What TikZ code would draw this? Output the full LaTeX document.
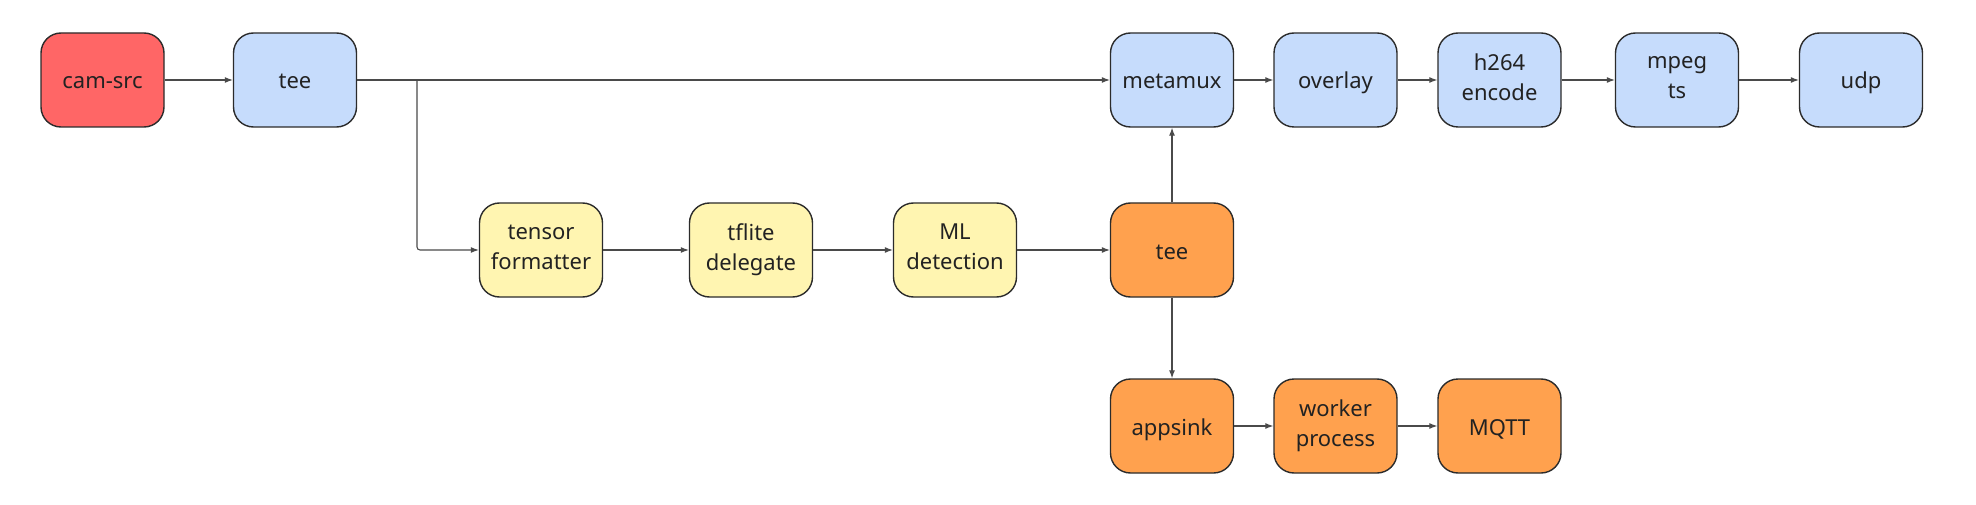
\documentclass[tikz,border=0pt]{standalone}
\usepackage{fontspec}
\setmainfont{Noto Sans}
\usetikzlibrary{arrows.meta}
\definecolor{cred}{HTML}{FF6666}
\definecolor{cblue}{HTML}{C6DCFC}
\definecolor{cyellow}{HTML}{FFF5B1}
\definecolor{corange}{HTML}{FFA14E}
\definecolor{cborder}{HTML}{2B2B2B}
\definecolor{cline}{HTML}{4A4A4A}
\definecolor{ctext}{HTML}{222222}
\newcommand{\boxstrut}{\rule[-6pt]{0pt}{30pt}}
\begin{document}
\begin{tikzpicture}[x=1pt,y=-1pt,
  box/.style={draw=cborder, line width=1.4pt, rounded corners=20pt,
    minimum width=123pt, minimum height=94pt, align=center, inner sep=0pt,
    text=ctext, font=\fontsize{22}{30}\selectfont,
    execute at begin node=\boxstrut, execute at end node=\boxstrut},
  red box/.style={box, fill=cred},
  blue box/.style={box, fill=cblue},
  yellow box/.style={box, fill=cyellow},
  orange box/.style={box, fill=corange},
  conn/.style={draw=cline, line width=1.1pt, -{Latex[length=8pt,width=6pt]}}]
\useasboundingbox (0,0) rectangle (1976,505);
\node[red box] (cam) at (102.5,80) {cam-src};
\node[blue box] (tee1) at (295,80) {tee};
\node[blue box] (metamux) at (1172,80) {metamux};
\node[blue box] (overlay) at (1335.5,80) {overlay};
\node[blue box] (h264) at (1499.5,80) {h264\\encode};
\node[blue box] (mpegts) at (1677,80) {mpeg\\ts};
\node[blue box] (udp) at (1861,80) {udp};
\node[yellow box] (tensor) at (541,250) {tensor\\formatter};
\node[yellow box] (tflite) at (751,250) {tflite\\delegate};
\node[yellow box] (ml) at (955,250) {ML\\detection};
\node[orange box] (tee2) at (1172,250) {tee};
\node[orange box] (appsink) at (1172,426) {appsink};
\node[orange box] (worker) at (1335.5,426) {worker\\process};
\node[orange box] (mqtt) at (1499.5,426) {MQTT};
\coordinate (split) at (417,80);
\draw[conn] (cam) -- (tee1);
\draw[conn] (tee1) -- (metamux);
\draw[conn, rounded corners=3pt] (split) |- (tensor);
\draw[conn] (tensor) -- (tflite);
\draw[conn] (tflite) -- (ml);
\draw[conn] (ml) -- (tee2);
\draw[conn] (tee2) -- (metamux);
\draw[conn] (tee2) -- (appsink);
\draw[conn] (metamux) -- (overlay);
\draw[conn] (overlay) -- (h264);
\draw[conn] (h264) -- (mpegts);
\draw[conn] (mpegts) -- (udp);
\draw[conn] (appsink) -- (worker);
\draw[conn] (worker) -- (mqtt);
\end{tikzpicture}
\end{document}
